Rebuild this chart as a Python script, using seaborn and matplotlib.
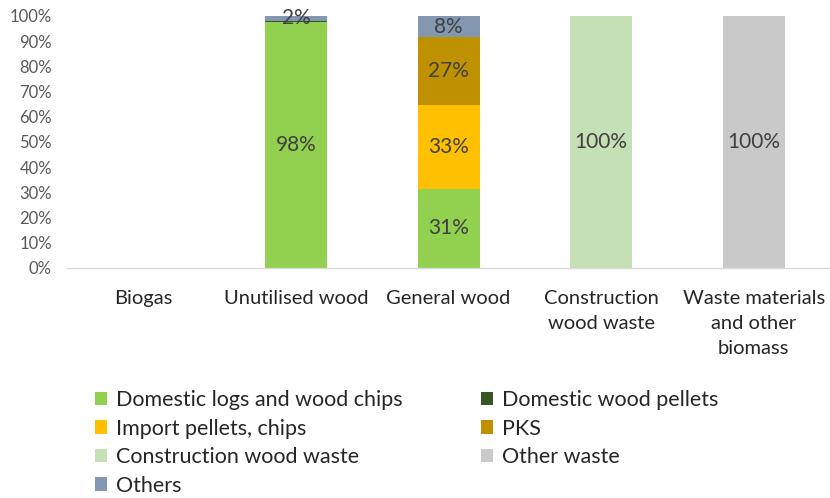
import matplotlib
matplotlib.use("Agg")
import matplotlib.pyplot as plt
from matplotlib.patches import Patch
import numpy as np
import seaborn as sns

sns.set_theme(style="white")
plt.rcParams["font.family"] = ["Lato", "DejaVu Sans"]

categories = ["Biogas", "Unutilised wood", "General wood",
              "Construction\nwood waste", "Waste materials\nand other\nbiomass"]

series_names = ["Domestic logs and wood chips", "Domestic wood pellets",
                "Import pellets, chips", "PKS", "Construction wood waste",
                "Other waste", "Others"]

domestic_logs = [0, 97.6, 31.4, 0, 0]
domestic_pellets = [0, 0.4, 0, 0, 0]
import_pellets = [0, 0, 33.3, 0, 0]
pks = [0, 0, 26.9, 0, 0]
construction_waste = [0, 0, 0, 100, 0]
other_waste = [0, 0, 0, 0, 100]
others = [0, 2.0, 8.4, 0, 0]

series_values = [domestic_logs, domestic_pellets, import_pellets, pks,
                 construction_waste, other_waste, others]
colors = ["#92D050", "#375623", "#FFC000", "#BF9000", "#C5E0B4", "#C9C9C9", "#8497B0"]

fig = plt.figure(figsize=(8.3, 4.98), dpi=100)
ax = fig.add_axes([0.081, 0.462, 0.919, 0.506])

x = np.arange(len(categories))
bottom = np.zeros(len(categories))
for name, vals, col in zip(series_names, series_values, colors):
    vals = np.array(vals, dtype=float)
    sns.barplot(x=x, y=vals, bottom=bottom, color=col, width=0.405,
                saturation=1, ax=ax, linewidth=0, native_scale=True)
    for xi, v, b in zip(x, vals, bottom):
        if v >= 1:
            ax.text(xi, b + v / 2, f"{v:.0f}%", ha="center", va="center",
                    fontsize=15, color="#404040")
    bottom = bottom + vals

ax.set_xlim(-0.5, len(categories) - 0.5)
ax.set_ylim(0, 100)
ax.set_yticks(np.arange(0, 101, 10))
ax.set_yticklabels([f"{t}%" for t in range(0, 101, 10)], fontsize=12, color="#595959")
ax.set_xticks(x)
ax.set_xticklabels(categories, fontsize=14.5, color="#262626", linespacing=1.55)
ax.tick_params(axis="both", length=0)
ax.tick_params(axis="x", pad=16)
ax.tick_params(axis="y", pad=11)
for s in ["top", "right", "left"]:
    ax.spines[s].set_visible(False)
ax.spines["bottom"].set_color("#D9D9D9")
ax.spines["bottom"].set_linewidth(1)
ax.grid(False)
ax.set_xlabel("")
ax.set_ylabel("")

handles = [Patch(facecolor=c, edgecolor="none", label=n) for n, c in zip(series_names, colors)]
order = [0, 2, 4, 6, 1, 3, 5]
leg = fig.legend([handles[i] for i in order], [series_names[i] for i in order],
                 ncol=2, loc="upper left", bbox_to_anchor=(0.115, 0.217),
                 frameon=False, fontsize=15.5, handlelength=0.55, handleheight=0.6,
                 handletextpad=0.4, labelspacing=0.4, columnspacing=3.65,
                 borderaxespad=0, borderpad=0, labelcolor="#262626")

fig.savefig("out.png", dpi=100)
